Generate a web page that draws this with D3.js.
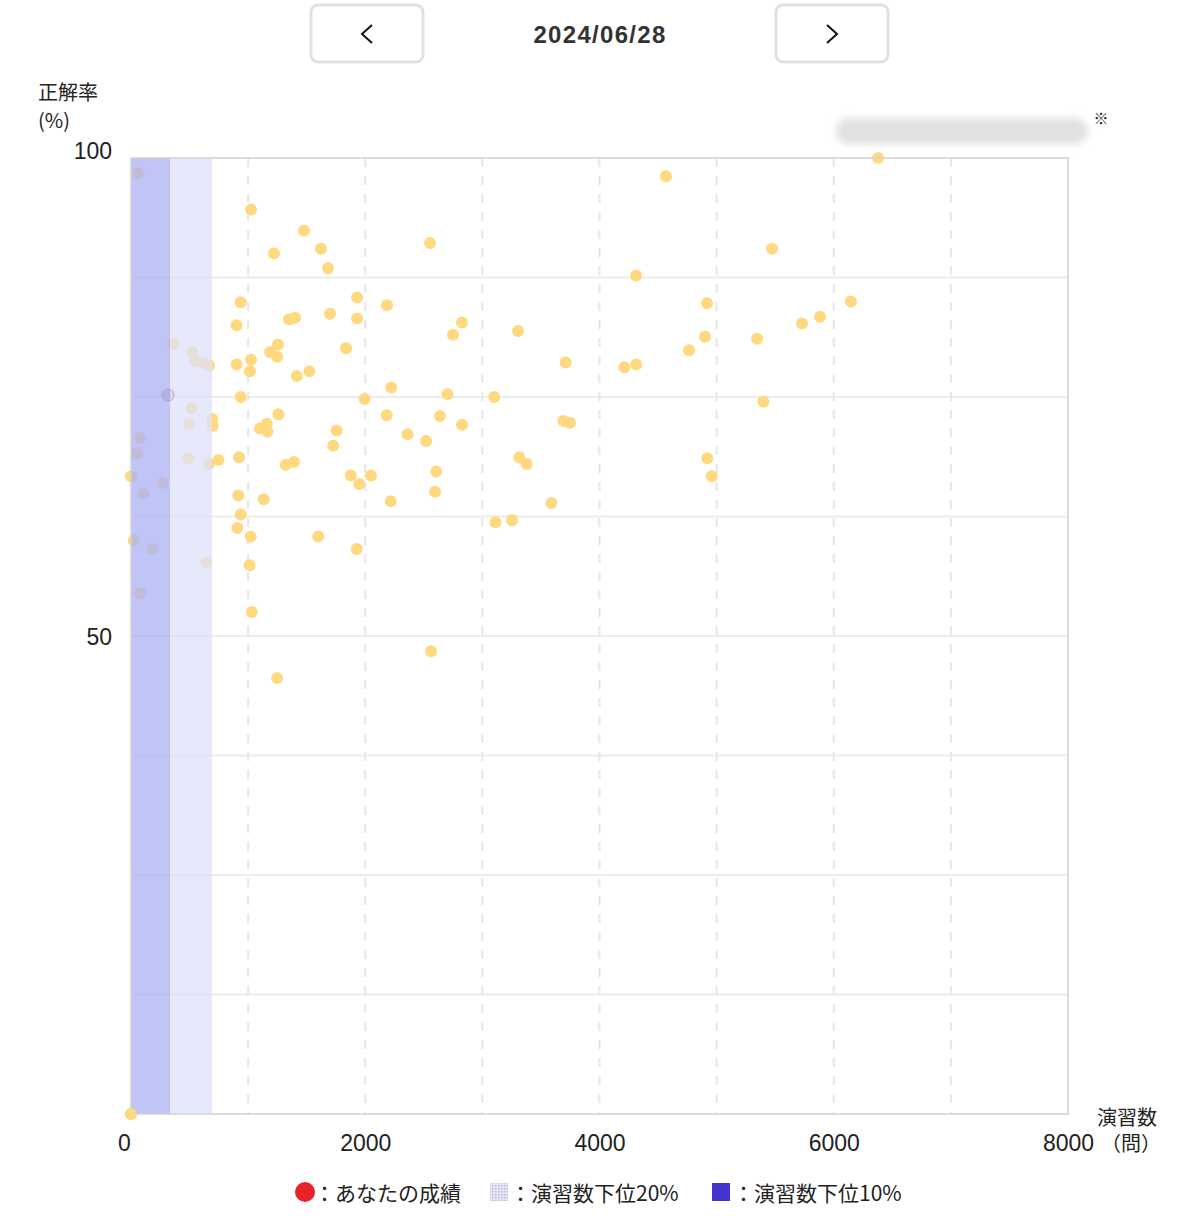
<!DOCTYPE html>
<html>
<head>
<meta charset="utf-8">
<script src="https://cdn.jsdelivr.net/npm/d3@7"></script>
<style>
  html, body { margin: 0; padding: 0; background: #fff; }
  svg { display: block; font-family: "Noto Sans CJK JP", "Noto Sans", sans-serif; }
</style>
</head>
<body>
<svg id="chart" width="1200" height="1216"></svg>
<script>
// ---- data ----
const dateLabel = "2024/06/28";
const practiceCounts = [60,1025,1477,1622,1221,1682,2553,4568,6378,5473,4312,937,1930,4918,6147,2186,901,1349,1400,1930,2826,5729,5883,1699,3304,2749,4901,5345,363,1255,1836,4764,1187,1247,525,546,602,632,666,1025,902,3711,4212,4314,1016,1522,1415,2222,937,1995,2701,3102,5399,518,1258,2183,2638,2826,493,694,698,1159,1101,1164,1756,2361,2520,3691,3748,79,1727,54,489,922,747,3315,4920,666,1321,1392,3378,0,1876,2049,2606,4958,271,1949,105,916,2596,1133,2217,3589,937,3112,3253,908,1022,1599,23,185,1927,643,1013,79,1031,2561,1247,0];
const accuracyRates = [98.4,94.6,92.4,90.5,90.0,88.5,91.1,98.1,100,90.5,87.7,84.9,85.4,84.8,85.0,84.6,82.5,83.1,83.3,83.2,82.8,82.7,83.4,83.7,81.9,81.5,81.3,81.1,80.6,80.5,80.1,79.9,79.7,79.2,79.7,78.8,78.6,78.5,78.3,78.9,78.4,78.6,78.1,78.4,77.7,77.7,77.2,76.0,75.0,74.8,75.3,75.0,74.5,73.8,73.2,73.1,73.0,72.1,72.2,72.7,72.0,72.2,71.7,71.4,71.5,71.1,70.4,72.5,72.3,70.7,69.9,69.1,68.6,68.7,68.4,68.7,68.6,68.0,67.9,68.2,68.0,66.7,66.8,66.8,67.2,66.7,66.0,65.9,64.9,64.7,65.1,64.3,64.1,63.9,62.7,61.9,62.1,61.3,60.4,60.4,60.0,59.1,59.1,57.7,57.4,54.5,52.5,48.4,45.6,0];
const myCount = 318;
const myRate = 75.2;
const bottom10Limit = 333;
const bottom20Limit = 692;
const xTickLabels = [0, 2000, 4000, 6000, 8000];
const xGridValues = [1000, 2000, 3000, 4000, 5000, 6000, 7000];
const yTickLabels = [50, 100];
const yGridValues = [12.5, 25, 37.5, 50, 62.5, 75, 87.5];
const yTitleLines = ["正解率", "(%)"];
const xTitleLines = ["演習数", "（問）"];
const legendItems = ["：あなたの成績", "：演習数下位20%", "：演習数下位10%"];

// ---- layout ----
const svg = d3.select("#chart");
const x = d3.scaleLinear().domain([0, 8000]).range([131, 1068]);
const y = d3.scaleLinear().domain([0, 100]).range([1114, 158]);
const numFont = "'Liberation Sans', Arial, sans-serif";

const defs = svg.append("defs");
defs.append("filter").attr("id", "blur").attr("x", "-20%").attr("y", "-60%").attr("width", "140%").attr("height", "220%")
  .append("feGaussianBlur").attr("stdDeviation", 3.5);
const pat = defs.append("pattern").attr("id", "hatch").attr("width", 3).attr("height", 3).attr("patternUnits", "userSpaceOnUse");
pat.append("rect").attr("width", 3).attr("height", 3).attr("fill", "#e4e5f6");
pat.append("rect").attr("width", 1.5).attr("height", 1.5).attr("fill", "#b9bbd8");

// ---- top navigation ----
function navButton(cx, dir) {
  const g = svg.append("g");
  g.append("rect").attr("x", cx - 56).attr("y", 5).attr("width", 112).attr("height", 57)
    .attr("rx", 7).attr("fill", "#fff").attr("stroke", "#e0e0e0").attr("stroke-width", 3);
  const d = dir < 0 ? `M${cx + 5},25 L${cx - 5},34 L${cx + 5},43` : `M${cx - 5},25 L${cx + 5},34 L${cx - 5},43`;
  g.append("path").attr("d", d).attr("fill", "none").attr("stroke", "#111").attr("stroke-width", 2);
}
navButton(367, -1);
navButton(832, 1);
svg.append("text").attr("x", 600).attr("y", 34).attr("text-anchor", "middle").attr("dominant-baseline", "central")
  .attr("font-family", numFont).attr("font-size", 24).attr("font-weight", "bold").attr("letter-spacing", 1.3)
  .attr("fill", "#333").text(dateLabel);

// ---- blurred note ----
svg.append("rect").attr("x", 836).attr("y", 118).attr("width", 252).attr("height", 26).attr("rx", 13)
  .attr("fill", "#e1e1e1").attr("filter", "url(#blur)");
svg.append("text").attr("x", 1101).attr("y", 117).attr("text-anchor", "middle").attr("dominant-baseline", "central")
  .attr("font-size", 15).attr("fill", "#222").text("※");

// ---- grid ----
svg.append("g").selectAll("line").data(yGridValues).join("line")
  .attr("x1", x(0)).attr("x2", x(8000)).attr("y1", d => y(d)).attr("y2", d => y(d))
  .attr("stroke", "#ececec").attr("stroke-width", 2);
svg.append("g").selectAll("line").data(xGridValues).join("line")
  .attr("x1", d => x(d)).attr("x2", d => x(d)).attr("y1", y(100)).attr("y2", y(0))
  .attr("stroke", "#e6e6e6").attr("stroke-width", 2).attr("stroke-dasharray", "9,9");

// ---- points ----
const pts = practiceCounts.map((c, i) => ({ c, r: accuracyRates[i] }));
svg.append("circle").attr("cx", x(myCount)).attr("cy", y(myRate)).attr("r", 6.5).attr("fill", "#e8242a");
svg.append("circle").attr("cx", x(myCount) - 1).attr("cy", y(myRate)).attr("r", 6).attr("fill", "#b8b8b8");
svg.append("g").selectAll("circle").data(pts).join("circle")
  .attr("cx", d => x(d.c)).attr("cy", d => y(d.r)).attr("r", 6).attr("fill", "#fed97f");

// ---- bands (overlay) ----
svg.append("rect").attr("x", x(bottom10Limit)).attr("y", y(100)).attr("width", x(bottom20Limit) - x(bottom10Limit))
  .attr("height", y(0) - y(100)).attr("fill", "rgb(222,224,251)").attr("fill-opacity", 0.75);
svg.append("rect").attr("x", x(0)).attr("y", y(100)).attr("width", x(bottom10Limit) - x(0))
  .attr("height", y(0) - y(100)).attr("fill", "rgb(171,176,244)").attr("fill-opacity", 0.75);

// ---- frame ----
svg.append("rect").attr("x", x(0)).attr("y", y(100)).attr("width", x(8000) - x(0)).attr("height", y(0) - y(100))
  .attr("fill", "none").attr("stroke", "#d2d2d2").attr("stroke-width", 1.5);

// bottom-left point drawn above frame
svg.append("circle").datum(pts[pts.length - 1]).attr("cx", d => x(d.c)).attr("cy", d => y(d.r)).attr("r", 6).attr("fill", "#fed97f");

// ---- axes ----
const xAxis = d3.axisBottom(x).tickValues(xTickLabels).tickSize(0).tickPadding(21).tickFormat(d3.format("d"));
const gx = svg.append("g").attr("transform", `translate(0,${y(0)})`).call(xAxis);
gx.select(".domain").remove();
gx.selectAll("text").attr("font-size", 23).attr("fill", "#222").attr("font-family", numFont)
  .attr("dx", d => d === 0 ? -7 : 0);

const yAxis = d3.axisLeft(y).tickValues(yTickLabels).tickSize(0).tickPadding(19);
const gy = svg.append("g").attr("transform", `translate(${x(0)},0)`).call(yAxis);
gy.select(".domain").remove();
gy.selectAll("text").attr("font-size", 23).attr("fill", "#222").attr("font-family", numFont)
  .attr("dy", d => d === 100 ? "0" : "0.38em");

// ---- axis titles (two-line) ----
yTitleLines.forEach((t, i) => {
  svg.append("text").attr("x", 38).attr("y", 91 + i * 28).attr("dominant-baseline", "central")
    .attr("font-size", 20).attr("fill", "#222").text(t);
});
xTitleLines.forEach((t, i) => {
  svg.append("text").attr("x", i === 0 ? 1157 : 1161).attr("y", 1116 + i * 26).attr("text-anchor", "end")
    .attr("dominant-baseline", "central").attr("font-size", 20).attr("fill", "#222").text(t);
});

// ---- legend ----
const ly = 1192;
svg.append("circle").attr("cx", 305).attr("cy", ly).attr("r", 10).attr("fill", "#e8242a");
svg.append("text").attr("x", 314).attr("y", ly).attr("dominant-baseline", "central").attr("font-size", 21).attr("fill", "#222").text(legendItems[0]);
svg.append("rect").attr("x", 490).attr("y", ly - 9).attr("width", 18).attr("height", 18).attr("fill", "url(#hatch)");
svg.append("text").attr("x", 510).attr("y", ly).attr("dominant-baseline", "central").attr("font-size", 21).attr("fill", "#222").text(legendItems[1]);
svg.append("rect").attr("x", 712).attr("y", ly - 9).attr("width", 18).attr("height", 18).attr("fill", "#4433cc");
svg.append("text").attr("x", 733).attr("y", ly).attr("dominant-baseline", "central").attr("font-size", 21).attr("fill", "#222").text(legendItems[2]);
</script>
</body>
</html>
